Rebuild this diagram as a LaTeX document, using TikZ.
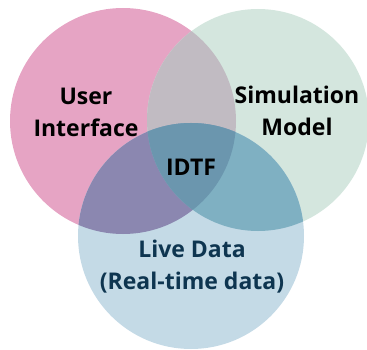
\documentclass[tikz,border=0pt]{standalone}
\usepackage{fontspec}
\setmainfont{Open Sans}
\usepackage{tikz}
\usetikzlibrary{calc}

\definecolor{pinkui}{RGB}{230,164,196}
\definecolor{greensim}{RGB}{212,230,222}
\definecolor{bluedata}{RGB}{196,218,230}
\definecolor{pinkgreen}{RGB}{193,187,194}
\definecolor{pinkblue}{RGB}{139,135,176}
\definecolor{greenblue}{RGB}{127,176,194}
\definecolor{allthree}{RGB}{107,150,174}
\definecolor{navytext}{RGB}{14,53,80}

\tikzset{
    label/.style={font=\fontsize{23}{32}\selectfont\bfseries, align=center, text=black}
}

\begin{document}
\begin{tikzpicture}[x=1pt, y=-1pt]
        \useasboundingbox (0, 0) rectangle (367, 350);

        \coordinate (U) at (123, 121);
        \coordinate (S) at (258, 120);
        \coordinate (L) at (191, 236);
        \def\ru{113}
        \def\rs{111}
        \def\rl{113}

        % the three sets
        \fill[pinkui] (U) circle (\ru);
        \fill[greensim] (S) circle (\rs);
        \fill[bluedata] (L) circle (\rl);

        % pairwise overlaps
        \begin{scope}
            \clip (U) circle (\ru);
            \fill[pinkgreen] (S) circle (\rs);
            \fill[pinkblue] (L) circle (\rl);
        \end{scope}
        \begin{scope}
            \clip (S) circle (\rs);
            \fill[greenblue] (L) circle (\rl);
        \end{scope}

        % centre where all three meet
        \begin{scope}
            \clip (U) circle (\ru);
            \clip (S) circle (\rs);
            \fill[allthree] (L) circle (\rl);
        \end{scope}

        \node[label] (ui) at (86, 112) {User\\Interface};
        \node[label] (sim) at (297, 111) {Simulation\\Model};
        \node[label] (idtf) at (191, 167) {IDTF};
        \node[label, text=navytext] (live) at (192, 267) {Live Data\\(Real-time data)};
    \end{tikzpicture}
\end{document}
